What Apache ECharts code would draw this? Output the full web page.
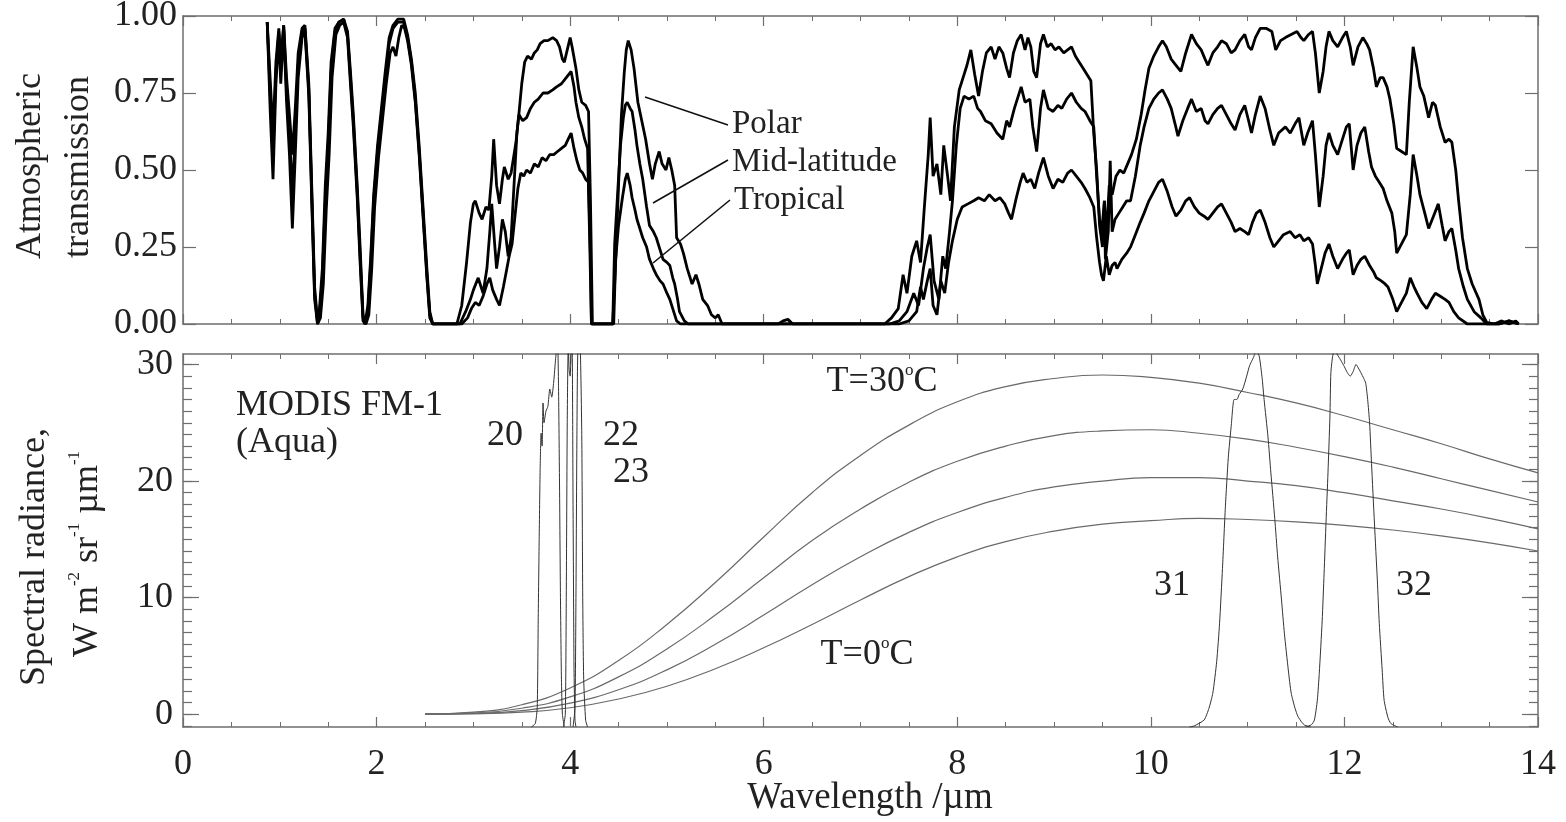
<!DOCTYPE html>
<html>
<head>
<meta charset="utf-8">
<script src="https://cdn.jsdelivr.net/npm/echarts@6/dist/echarts.min.js"></script>
<style>html,body{margin:0;padding:0;background:#fff}#c{width:1566px;height:822px}</style>
</head>
<body>
<div id="c"></div>
<script>
// ---------- DATA (wavelength µm, value) ----------
// Top panel: atmospheric transmission
const polar = [
[0.87,0.98],[0.90,0.80],[0.93,0.62],[0.96,0.85],[0.99,0.96],[1.01,0.85],[1.04,0.97],[1.07,0.80],[1.10,0.68],[1.13,0.55],[1.16,0.70],[1.19,0.88],[1.23,0.96],[1.26,0.97],[1.30,0.78],[1.33,0.45],[1.36,0.12],[1.39,0.01],[1.41,0.05],[1.44,0.18],[1.47,0.45],[1.50,0.62],[1.53,0.85],[1.57,0.96],[1.61,0.98],[1.66,0.99],[1.70,0.95],[1.73,0.82],[1.76,0.68],[1.80,0.45],[1.83,0.25],[1.86,0.03],[1.88,0.0],[1.91,0.06],[1.94,0.22],[1.97,0.42],[2.01,0.58],[2.05,0.70],[2.09,0.82],[2.13,0.93],[2.17,0.97],[2.22,0.99],[2.28,0.99],[2.32,0.94],[2.36,0.86],[2.40,0.75],[2.44,0.58],[2.48,0.38],[2.52,0.18],[2.55,0.04],[2.58,0.0],[2.83,0.0],
[2.88,0.06],[2.93,0.20],[2.97,0.33],[3.00,0.39],[3.02,0.40],[3.06,0.36],[3.09,0.34],[3.13,0.38],[3.16,0.37],[3.19,0.48],[3.21,0.60],[3.24,0.45],[3.27,0.39],[3.30,0.47],[3.32,0.51],[3.36,0.47],[3.39,0.49],[3.42,0.55],[3.44,0.59],[3.47,0.68],[3.50,0.78],[3.53,0.85],[3.56,0.87],[3.60,0.86],[3.63,0.88],[3.66,0.89],[3.69,0.91],[3.73,0.92],[3.77,0.92],[3.82,0.93],[3.86,0.92],[3.89,0.90],[3.92,0.86],[3.94,0.85],[3.97,0.89],[4.00,0.93],[4.02,0.90],[4.06,0.83],[4.09,0.76],[4.12,0.72],[4.16,0.71],[4.19,0.69],[4.21,0.40],[4.23,0.0],[4.44,0.0],
[4.47,0.20],[4.50,0.45],[4.53,0.68],[4.56,0.82],[4.58,0.89],[4.60,0.92],[4.63,0.89],[4.66,0.83],[4.70,0.72],[4.74,0.66],[4.78,0.60],[4.82,0.52],[4.85,0.47],[4.88,0.52],[4.92,0.56],[4.95,0.52],[4.99,0.50],[5.02,0.54],[5.05,0.50],[5.08,0.45],[5.10,0.28],[5.14,0.26],[5.17,0.23],[5.21,0.18],[5.26,0.13],[5.30,0.16],[5.33,0.13],[5.37,0.08],[5.42,0.06],[5.46,0.03],[5.50,0.02],[5.53,0.03],[5.57,0.0],[6.15,0.0],[6.20,0.01],[6.25,0.015],[6.30,0.0],[7.25,0.0],
[7.32,0.02],[7.39,0.05],[7.44,0.16],[7.48,0.10],[7.53,0.22],[7.58,0.27],[7.62,0.20],[7.66,0.38],[7.70,0.55],[7.72,0.67],[7.75,0.48],[7.79,0.52],[7.83,0.42],[7.86,0.58],[7.90,0.48],[7.93,0.40],[7.97,0.64],[8.02,0.76],[8.06,0.80],[8.10,0.84],[8.14,0.89],[8.18,0.81],[8.22,0.74],[8.26,0.82],[8.30,0.88],[8.35,0.90],[8.39,0.86],[8.43,0.90],[8.47,0.88],[8.51,0.83],[8.54,0.80],[8.58,0.88],[8.62,0.92],[8.66,0.94],[8.70,0.89],[8.73,0.93],[8.76,0.90],[8.79,0.82],[8.82,0.80],[8.86,0.91],[8.89,0.94],[8.93,0.90],[8.97,0.91],[9.01,0.89],[9.05,0.90],[9.10,0.88],[9.14,0.89],[9.18,0.90],[9.22,0.87],[9.26,0.85],[9.30,0.83],[9.34,0.81],[9.38,0.79],[9.41,0.62],[9.44,0.50],[9.47,0.32],[9.50,0.25],[9.52,0.40],[9.54,0.28],[9.57,0.45],[9.60,0.42],[9.64,0.48],[9.68,0.50],[9.72,0.49],[9.76,0.52],[9.80,0.55],[9.85,0.60],[9.90,0.68],[9.94,0.76],[9.98,0.83],[10.03,0.87],[10.08,0.90],[10.12,0.92],[10.16,0.90],[10.21,0.86],[10.26,0.84],[10.31,0.82],[10.36,0.88],[10.42,0.94],[10.47,0.91],[10.52,0.89],[10.56,0.86],[10.59,0.84],[10.64,0.88],[10.69,0.90],[10.73,0.92],[10.78,0.91],[10.83,0.88],[10.87,0.89],[10.92,0.92],[10.97,0.94],[11.01,0.90],[11.04,0.89],[11.08,0.93],[11.13,0.96],[11.19,0.96],[11.25,0.95],[11.29,0.89],[11.34,0.92],[11.39,0.93],[11.45,0.94],[11.51,0.95],[11.55,0.93],[11.58,0.92],[11.63,0.94],[11.67,0.95],[11.70,0.88],[11.74,0.75],[11.78,0.82],[11.81,0.90],[11.84,0.95],[11.88,0.92],[11.93,0.90],[11.98,0.93],[12.02,0.95],[12.06,0.90],[12.09,0.84],[12.14,0.90],[12.19,0.93],[12.23,0.91],[12.26,0.89],[12.30,0.83],[12.33,0.77],[12.37,0.80],[12.40,0.80],[12.44,0.77],[12.47,0.73],[12.51,0.65],[12.54,0.57],[12.59,0.56],[12.64,0.55],[12.67,0.72],[12.71,0.90],[12.75,0.83],[12.78,0.77],[12.82,0.74],[12.87,0.67],[12.91,0.72],[12.94,0.71],[12.99,0.64],[13.04,0.59],[13.08,0.60],[13.11,0.59],[13.15,0.50],[13.18,0.40],[13.22,0.28],[13.27,0.18],[13.32,0.13],[13.39,0.08],[13.43,0.03],[13.47,0.005],[13.55,0.0],[13.62,0.01],[13.70,0.0],[13.77,0.01],[13.80,0.0]
];
const midLatitude = [
[0.87,0.98],[0.90,0.75],[0.93,0.55],[0.96,0.82],[0.99,0.95],[1.01,0.82],[1.04,0.97],[1.07,0.76],[1.10,0.62],[1.13,0.42],[1.16,0.62],[1.19,0.84],[1.23,0.95],[1.26,0.96],[1.30,0.76],[1.33,0.42],[1.36,0.10],[1.39,0.0],[1.41,0.03],[1.44,0.15],[1.47,0.40],[1.50,0.58],[1.53,0.82],[1.57,0.95],[1.61,0.98],[1.66,0.99],[1.70,0.94],[1.73,0.80],[1.76,0.66],[1.80,0.43],[1.83,0.22],[1.86,0.02],[1.88,0.0],[1.91,0.04],[1.94,0.20],[1.97,0.40],[2.01,0.56],[2.05,0.68],[2.09,0.80],[2.13,0.91],[2.17,0.96],[2.22,0.98],[2.28,0.98],[2.32,0.93],[2.36,0.85],[2.40,0.73],[2.44,0.56],[2.48,0.36],[2.52,0.16],[2.55,0.03],[2.58,0.0],[2.86,0.0],
[2.92,0.04],[2.97,0.08],[3.00,0.11],[3.05,0.15],[3.08,0.12],[3.10,0.10],[3.14,0.18],[3.17,0.30],[3.19,0.39],[3.22,0.26],[3.24,0.18],[3.27,0.25],[3.30,0.34],[3.33,0.30],[3.36,0.22],[3.39,0.28],[3.42,0.45],[3.45,0.62],[3.47,0.68],[3.51,0.66],[3.55,0.67],[3.59,0.70],[3.63,0.72],[3.67,0.73],[3.72,0.75],[3.77,0.75],[3.82,0.76],[3.86,0.77],[3.91,0.78],[3.96,0.80],[4.01,0.82],[4.04,0.77],[4.06,0.72],[4.09,0.67],[4.12,0.64],[4.15,0.60],[4.18,0.57],[4.20,0.30],[4.22,0.0],[4.44,0.0],
[4.46,0.26],[4.49,0.42],[4.52,0.58],[4.55,0.67],[4.57,0.71],[4.59,0.72],[4.62,0.70],[4.64,0.69],[4.67,0.63],[4.69,0.58],[4.72,0.52],[4.75,0.47],[4.79,0.38],[4.82,0.32],[4.86,0.30],[4.89,0.28],[4.93,0.24],[4.96,0.21],[5.00,0.20],[5.03,0.19],[5.06,0.15],[5.08,0.13],[5.11,0.08],[5.13,0.04],[5.18,0.01],[5.22,0.0],[7.30,0.0],
[7.40,0.01],[7.48,0.04],[7.55,0.10],[7.60,0.06],[7.65,0.18],[7.69,0.25],[7.72,0.29],[7.76,0.14],[7.81,0.08],[7.85,0.22],[7.88,0.18],[7.92,0.30],[7.95,0.40],[7.99,0.58],[8.03,0.70],[8.07,0.74],[8.12,0.73],[8.17,0.74],[8.21,0.70],[8.24,0.69],[8.29,0.66],[8.35,0.65],[8.41,0.62],[8.47,0.60],[8.51,0.66],[8.54,0.64],[8.59,0.70],[8.63,0.74],[8.66,0.77],[8.70,0.72],[8.75,0.73],[8.78,0.64],[8.82,0.56],[8.86,0.70],[8.89,0.76],[8.94,0.70],[8.99,0.69],[9.04,0.71],[9.08,0.70],[9.13,0.73],[9.18,0.75],[9.23,0.72],[9.28,0.70],[9.32,0.69],[9.37,0.66],[9.41,0.64],[9.44,0.48],[9.47,0.34],[9.49,0.29],[9.52,0.40],[9.53,0.21],[9.56,0.30],[9.58,0.53],[9.60,0.30],[9.63,0.34],[9.67,0.36],[9.71,0.38],[9.75,0.40],[9.79,0.40],[9.84,0.48],[9.89,0.58],[9.93,0.64],[9.98,0.70],[10.03,0.73],[10.08,0.75],[10.12,0.76],[10.17,0.73],[10.21,0.70],[10.25,0.65],[10.28,0.61],[10.33,0.66],[10.38,0.70],[10.42,0.73],[10.47,0.69],[10.52,0.70],[10.56,0.66],[10.59,0.65],[10.64,0.68],[10.69,0.70],[10.73,0.71],[10.78,0.68],[10.83,0.65],[10.87,0.63],[10.92,0.68],[10.97,0.71],[11.01,0.66],[11.04,0.62],[11.08,0.68],[11.13,0.74],[11.18,0.70],[11.23,0.63],[11.27,0.58],[11.32,0.62],[11.39,0.64],[11.44,0.62],[11.49,0.65],[11.53,0.67],[11.58,0.58],[11.62,0.62],[11.67,0.66],[11.70,0.55],[11.74,0.38],[11.78,0.48],[11.81,0.58],[11.84,0.62],[11.88,0.58],[11.93,0.55],[11.98,0.60],[12.02,0.64],[12.05,0.65],[12.09,0.50],[12.13,0.58],[12.17,0.62],[12.21,0.64],[12.25,0.56],[12.28,0.51],[12.32,0.48],[12.36,0.46],[12.40,0.44],[12.44,0.40],[12.49,0.36],[12.52,0.30],[12.54,0.23],[12.59,0.26],[12.64,0.29],[12.68,0.42],[12.71,0.55],[12.75,0.48],[12.78,0.42],[12.83,0.36],[12.87,0.31],[12.92,0.35],[12.97,0.39],[13.01,0.32],[13.04,0.27],[13.08,0.30],[13.11,0.31],[13.15,0.24],[13.18,0.18],[13.23,0.12],[13.27,0.08],[13.34,0.04],[13.41,0.02],[13.47,0.0],[13.60,0.0],[13.70,0.01],[13.80,0.0]
];
const tropical = [
[0.87,0.98],[0.90,0.70],[0.93,0.47],[0.96,0.78],[0.99,0.94],[1.01,0.78],[1.04,0.96],[1.07,0.72],[1.10,0.55],[1.13,0.31],[1.16,0.55],[1.19,0.80],[1.23,0.93],[1.26,0.95],[1.30,0.74],[1.33,0.40],[1.36,0.08],[1.39,0.0],[1.42,0.02],[1.45,0.13],[1.48,0.37],[1.51,0.55],[1.54,0.80],[1.58,0.94],[1.62,0.97],[1.66,0.98],[1.70,0.93],[1.73,0.78],[1.76,0.64],[1.80,0.41],[1.83,0.20],[1.86,0.01],[1.89,0.0],[1.92,0.03],[1.95,0.18],[1.98,0.38],[2.02,0.54],[2.06,0.66],[2.10,0.78],[2.14,0.88],[2.17,0.90],[2.20,0.87],[2.23,0.93],[2.26,0.97],[2.29,0.96],[2.32,0.92],[2.36,0.84],[2.40,0.72],[2.44,0.55],[2.48,0.35],[2.52,0.15],[2.55,0.02],[2.58,0.0],[2.88,0.0],
[2.94,0.02],[2.98,0.05],[3.02,0.07],[3.06,0.06],[3.10,0.09],[3.14,0.13],[3.17,0.15],[3.20,0.11],[3.24,0.08],[3.27,0.06],[3.31,0.12],[3.34,0.17],[3.37,0.22],[3.40,0.26],[3.43,0.35],[3.46,0.44],[3.49,0.49],[3.52,0.48],[3.55,0.50],[3.59,0.49],[3.63,0.52],[3.67,0.51],[3.71,0.54],[3.75,0.53],[3.79,0.55],[3.83,0.55],[3.87,0.56],[3.91,0.57],[3.95,0.58],[3.98,0.60],[4.01,0.62],[4.04,0.57],[4.07,0.53],[4.10,0.50],[4.13,0.49],[4.16,0.47],[4.19,0.46],[4.21,0.22],[4.22,0.0],[4.45,0.0],
[4.47,0.21],[4.50,0.32],[4.54,0.41],[4.57,0.47],[4.59,0.49],[4.62,0.45],[4.64,0.41],[4.67,0.37],[4.69,0.34],[4.72,0.31],[4.75,0.28],[4.79,0.25],[4.82,0.21],[4.86,0.18],[4.89,0.16],[4.93,0.14],[4.96,0.13],[5.00,0.10],[5.03,0.08],[5.06,0.05],[5.10,0.01],[5.14,0.0],[7.40,0.0],
[7.50,0.01],[7.58,0.04],[7.62,0.12],[7.65,0.08],[7.69,0.14],[7.72,0.18],[7.75,0.06],[7.79,0.03],[7.83,0.14],[7.87,0.10],[7.91,0.20],[7.95,0.27],[8.00,0.34],[8.05,0.38],[8.11,0.39],[8.17,0.40],[8.22,0.41],[8.28,0.40],[8.33,0.42],[8.39,0.40],[8.44,0.41],[8.49,0.39],[8.53,0.36],[8.56,0.34],[8.61,0.41],[8.65,0.46],[8.68,0.49],[8.72,0.46],[8.76,0.47],[8.80,0.44],[8.84,0.49],[8.89,0.54],[8.94,0.48],[8.99,0.44],[9.04,0.47],[9.09,0.46],[9.14,0.49],[9.18,0.50],[9.23,0.48],[9.28,0.46],[9.32,0.44],[9.37,0.41],[9.41,0.38],[9.44,0.28],[9.47,0.20],[9.49,0.16],[9.51,0.14],[9.54,0.22],[9.57,0.16],[9.60,0.19],[9.63,0.20],[9.65,0.18],[9.70,0.21],[9.75,0.23],[9.79,0.25],[9.84,0.29],[9.89,0.33],[9.93,0.36],[9.98,0.40],[10.03,0.43],[10.08,0.46],[10.12,0.47],[10.17,0.43],[10.22,0.38],[10.26,0.35],[10.31,0.37],[10.36,0.40],[10.40,0.41],[10.45,0.38],[10.50,0.36],[10.55,0.35],[10.59,0.34],[10.64,0.36],[10.69,0.38],[10.73,0.39],[10.78,0.36],[10.83,0.33],[10.87,0.30],[10.92,0.31],[10.97,0.30],[11.01,0.29],[11.05,0.33],[11.09,0.36],[11.13,0.37],[11.18,0.33],[11.23,0.28],[11.27,0.25],[11.32,0.27],[11.37,0.29],[11.44,0.30],[11.49,0.28],[11.54,0.29],[11.58,0.27],[11.63,0.28],[11.67,0.26],[11.70,0.19],[11.72,0.13],[11.76,0.18],[11.80,0.23],[11.84,0.26],[11.88,0.22],[11.93,0.18],[11.98,0.21],[12.02,0.23],[12.05,0.24],[12.09,0.16],[12.13,0.19],[12.17,0.21],[12.21,0.22],[12.26,0.19],[12.30,0.17],[12.33,0.15],[12.38,0.14],[12.42,0.13],[12.45,0.12],[12.50,0.08],[12.54,0.04],[12.59,0.07],[12.64,0.10],[12.68,0.15],[12.72,0.12],[12.75,0.10],[12.80,0.07],[12.85,0.05],[12.90,0.08],[12.94,0.10],[12.99,0.09],[13.04,0.08],[13.08,0.07],[13.13,0.04],[13.18,0.02],[13.27,0.0],[13.60,0.0],[13.70,0.01],[13.80,0.0]
];

// Bottom panel: Planck radiance curves (T = 0, 10, 20, 30 °C)
const planckWavelength = [2.5,3,3.5,4,4.5,5,5.5,6,6.5,7,7.5,8,8.5,9,9.5,10,10.5,11,11.5,12,12.5,13,13.5,14];
const radianceT30 = [0.02,0.18,0.81,2.25,4.6,7.7,11.3,15.2,19.0,22.2,24.8,26.8,28.1,28.8,29.1,28.9,28.4,27.6,26.7,25.6,24.4,23.2,21.9,20.7];
const radianceT20 = [0.01,0.11,0.51,1.48,3.2,5.6,8.5,11.7,14.9,17.6,19.9,21.7,23.0,23.9,24.3,24.4,24.1,23.6,22.9,22.1,21.2,20.2,19.2,18.2];
const radianceT10 = [0.0,0.06,0.31,0.95,2.1,3.8,6.0,8.5,11.1,13.5,15.6,17.3,18.6,19.5,20.0,20.3,20.3,20.0,19.6,19.0,18.3,17.6,16.8,15.9];
const radianceT0  = [0.0,0.03,0.17,0.55,1.3,2.4,3.9,5.7,7.7,9.8,11.8,13.5,14.8,15.7,16.3,16.6,16.8,16.7,16.5,16.2,15.8,15.3,14.7,14.0];

// MODIS FM-1 (Aqua) spectral response functions, drawn on the radiance scale
const band20 = [[3.60,-1.1],[3.64,-0.8],[3.66,0.6],[3.67,8],[3.68,15],[3.69,21],[3.70,24.1],[3.71,23.0],[3.72,26.7],[3.73,25.0],[3.75,26.0],[3.77,26.4],[3.79,27.9],[3.81,27.2],[3.83,28.5],[3.85,30.5],[3.87,32],[3.88,28],[3.89,20],[3.90,10],[3.91,3],[3.92,0],[3.94,-1.1]];
const band22 = [[3.93,-1.1],[3.95,0],[3.96,10],[3.97,25],[3.98,31.5],[3.99,29.5],[4.00,29],[4.01,31],[4.02,32],[4.03,18],[4.04,4],[4.05,-0.5],[4.06,-1.1]];
const band23 = [[4.03,-1.1],[4.05,0.5],[4.06,10],[4.07,24],[4.08,31.5],[4.10,32],[4.12,24],[4.13,10],[4.14,3],[4.16,-0.5],[4.18,-1.1]];
const band31 = [[10.40,-1.1],[10.45,-1.0],[10.55,-0.5],[10.60,0.5],[10.64,1.8],[10.68,4.5],[10.71,7.8],[10.74,12.5],[10.77,17.8],[10.80,22],[10.83,24.7],[10.86,27.0],[10.89,27.0],[10.91,27.4],[10.95,27.9],[10.99,29.0],[11.02,29.9],[11.06,30.6],[11.09,31.2],[11.12,30.7],[11.15,28.8],[11.17,27.0],[11.21,23.8],[11.24,20.7],[11.28,16.8],[11.31,13.5],[11.35,9.8],[11.38,6.9],[11.42,3.8],[11.45,1.8],[11.49,0.5],[11.52,-0.2],[11.56,-0.7],[11.59,-0.95],[11.65,-1.1]];
const band32 = [[11.60,-1.1],[11.66,-0.9],[11.69,-0.5],[11.72,1.2],[11.74,3.5],[11.77,8.0],[11.79,12.1],[11.81,16.5],[11.83,20.7],[11.85,25.5],[11.86,29.3],[11.88,30.8],[11.90,31.2],[11.93,30.8],[11.96,30.4],[12.00,29.8],[12.03,29.3],[12.06,29.0],[12.09,29.4],[12.12,30.0],[12.15,29.6],[12.17,29.3],[12.20,28.8],[12.22,28.4],[12.24,27.0],[12.26,25.0],[12.28,21.5],[12.31,16.4],[12.34,11.5],[12.36,7.8],[12.39,3.8],[12.41,1.2],[12.45,-0.3],[12.48,-0.8],[12.55,-1.1]];

// Axis tick values
const xTicks = {min: 0, max: 14, interval: 2};
const transTicks = {min: 0, max: 1, interval: 0.25};
const radRange = {min: -1.1, max: 30.9};
const radMajorTicks = [0, 10, 20, 30];
const radMinorTicks = [-1,0,1,2,3,4,5,6,7,8,9,10,11,12,13,14,15,16,17,18,19,20,21,22,23,24,25,26,27,28,29,30];

// ---------- CHART ----------
const FONT = '"Liberation Serif", "Times New Roman", serif';
const FRAME = '#6e6e6e';
const TXT = '#222';
const chart = echarts.init(document.getElementById('c'), null, {renderer: 'canvas'});

function xAxis(grid, pos, showLabels) {
  return {
    type: 'value', gridIndex: grid, position: pos,
    min: xTicks.min, max: xTicks.max, interval: xTicks.interval,
    axisLine: {show: true, onZero: false, lineStyle: {color: FRAME, width: 1.5}},
    axisTick: {show: true, inside: true, length: 10, lineStyle: {color: FRAME, width: 1.2}},
    minorTick: {show: true, splitNumber: 4, length: 5, lineStyle: {color: FRAME, width: 1}},
    axisLabel: {show: showLabels, fontFamily: FONT, fontSize: 36, color: TXT, margin: 20},
    splitLine: {show: false}, minorSplitLine: {show: false}
  };
}
function transAxis(pos, showLabels) {
  return {
    type: 'value', gridIndex: 0, position: pos,
    min: transTicks.min, max: transTicks.max, interval: transTicks.interval,
    axisLine: {show: true, onZero: false, lineStyle: {color: FRAME, width: 1.5}},
    axisTick: {show: true, inside: true, length: 13, lineStyle: {color: FRAME, width: 1.2}},
    axisLabel: {show: showLabels, fontFamily: FONT, fontSize: 36, color: TXT, margin: 6,
      formatter: v => v.toFixed(2)},
    splitLine: {show: false}
  };
}
function radAxis(pos, major) {
  return {
    type: 'value', gridIndex: 1, position: pos, min: radRange.min, max: radRange.max,
    axisLine: {show: major, onZero: false, lineStyle: {color: FRAME, width: 1.5}},
    axisTick: {show: true, inside: true, length: major ? 16 : 9,
      customValues: major ? radMajorTicks : radMinorTicks,
      lineStyle: {color: FRAME, width: 1.2}},
    axisLabel: {show: major && pos === 'left', customValues: radMajorTicks,
      fontFamily: FONT, fontSize: 36, color: TXT, margin: 10},
    splitLine: {show: false}
  };
}

function lineSeries(data, xi, yi, color, width, smooth) {
  return {type: 'line', xAxisIndex: xi, yAxisIndex: yi, data: data, showSymbol: false, symbol: 'none',
    smooth: smooth || false, clip: true, lineStyle: {color: color, width: width}, silent: true, z: 3};
}
function zip(xs, ys) { return xs.map((x, i) => [x, ys[i]]); }

const option = {
  animation: false,
  backgroundColor: '#fff',
  grid: [
    {left: 183, top: 16, width: 1355, height: 308, outerBoundsMode: 'none'},
    {left: 183, top: 354, width: 1355, height: 373, outerBoundsMode: 'none'}
  ],
  xAxis: [xAxis(0, 'bottom', false), xAxis(0, 'top', false), xAxis(1, 'bottom', true), xAxis(1, 'top', false)],
  yAxis: [transAxis('left', true), transAxis('right', false),
          radAxis('left', true), radAxis('right', true), radAxis('left', false), radAxis('right', false)],
  series: [
    lineSeries(tropical, 0, 0, '#000', 2.8),
    lineSeries(midLatitude, 0, 0, '#000', 2.8),
    lineSeries(polar, 0, 0, '#000', 2.8),
    lineSeries(zip(planckWavelength, radianceT0), 2, 2, '#6a6a6a', 1.2, true),
    lineSeries(zip(planckWavelength, radianceT10), 2, 2, '#6a6a6a', 1.2, true),
    lineSeries(zip(planckWavelength, radianceT20), 2, 2, '#6a6a6a', 1.2, true),
    lineSeries(zip(planckWavelength, radianceT30), 2, 2, '#6a6a6a', 1.2, true),
    lineSeries(band20, 2, 2, '#333', 1, 0.2),
    lineSeries(band22, 2, 2, '#333', 1, 0.2),
    lineSeries(band23, 2, 2, '#333', 1, 0.2),
    lineSeries(band31, 2, 2, '#333', 1, 0.2),
    lineSeries(band32, 2, 2, '#333', 1, 0.2)
  ]
};
chart.setOption(option);

// ---------- ANNOTATIONS ----------
function txt(text, x, y, size, rot, rich, align) {
  const el = {type: 'text', x: x, y: y, silent: true, z: 10,
    style: {text: text, fontFamily: FONT, fontSize: size, fill: TXT, align: align || 'center', verticalAlign: 'middle'}};
  if (rot) el.rotation = rot;
  if (rich) el.style.rich = rich;
  return el;
}
const supRich = {
  n: {fontFamily: FONT, fontSize: 36, fill: TXT, lineHeight: 40, verticalAlign: 'bottom'},
  s: {fontFamily: FONT, fontSize: 17, fill: TXT, lineHeight: 40, verticalAlign: 'top'}
};
const degRich = {
  n: {fontFamily: FONT, fontSize: 36, fill: TXT, lineHeight: 38, verticalAlign: 'bottom'},
  s: {fontFamily: FONT, fontSize: 17, fill: TXT, lineHeight: 38, verticalAlign: 'top'}
};
function leader(x1, y1, x2, y2) {
  return {type: 'line', silent: true, z: 10, shape: {x1: x1, y1: y1, x2: x2, y2: y2},
    style: {stroke: '#111', lineWidth: 1.6}};
}
chart.setOption({
  graphic: [
    txt('Atmospheric', 31, 166, 36, Math.PI / 2),
    txt('transmission', 79, 167, 36, Math.PI / 2),
    txt('Spectral radiance,', 35, 557, 36, Math.PI / 2),
    txt('{n|W m}{s|-2}{n| sr}{s|-1}{n| µm}{s|-1}', 86, 554, 36, Math.PI / 2, supRich),
    txt('Wavelength /µm', 870, 798, 37),
    txt('Polar', 732, 124, 33, 0, null, 'left'),
    txt('Mid-latitude', 732, 162, 33, 0, null, 'left'),
    txt('Tropical', 734, 200, 33, 0, null, 'left'),
    leader(645, 97, 728, 125),
    leader(653, 203, 728, 160),
    leader(653, 263, 730, 200),
    txt('MODIS FM-1', 236, 406, 36, 0, null, 'left'),
    txt('(Aqua)', 236, 443, 36, 0, null, 'left'),
    txt('20', 505, 436, 36),
    txt('22', 621, 436, 36),
    txt('23', 631, 473, 36),
    txt('31', 1172, 586, 36),
    txt('32', 1414, 586, 36),
    txt('{n|T=30}{s|o}{n|C}', 882, 381, 36, 0, degRich),
    txt('{n|T=0}{s|o}{n|C}', 867, 654, 36, 0, degRich)
  ]
});
</script>
</body>
</html>
